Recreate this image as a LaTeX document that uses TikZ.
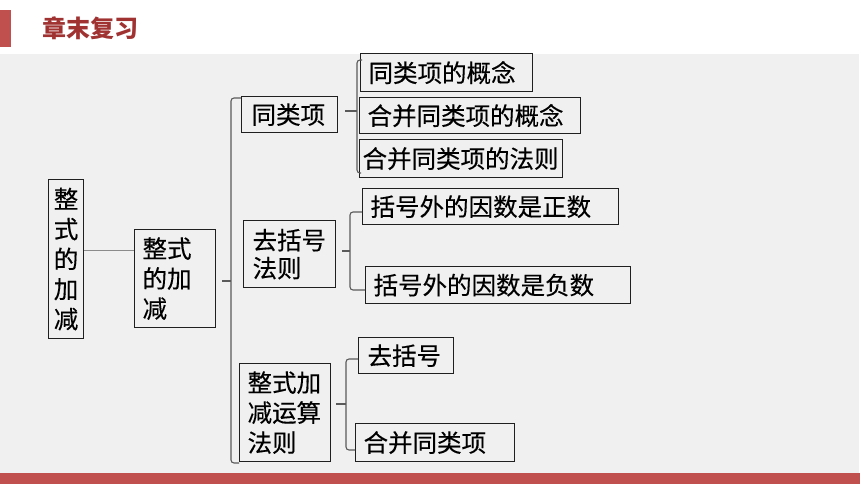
\documentclass[tikz,border=0pt]{standalone}
\usepackage{fontspec}
\usepackage{xcolor}
\usepackage{tikz}
\newfontfamily\cjk{Noto Sans CJK SC}
\newfontfamily\cjkbox[FakeBold=0.3]{Noto Sans CJK SC}
\definecolor{bg}{HTML}{F0F0F0}
\definecolor{bar}{HTML}{C0504D}
\definecolor{title}{HTML}{A03232}
\definecolor{edge}{HTML}{1F1F1F}
\definecolor{wire}{HTML}{5A5A5A}
\tikzset{
  box/.style={draw=edge, line width=1.2pt, anchor=north west, inner xsep=8pt, inner ysep=0pt, align=left, font=\cjkbox\fontsize{24.5}{30}\selectfont},
  brace/.style={draw=wire, line width=1.1pt, rounded corners=3pt},
  link/.style={draw=wire!70, line width=1pt}
}

\begin{document}
\begin{tikzpicture}[x=1pt,y=-1pt]
\useasboundingbox (0,0) rectangle (860,484);
% frame
\fill[bg] (0,54) rectangle (859,473);
\fill[bar] (0,473) rectangle (860,484);
\fill[bar] (0,10) rectangle (11,47);
\node[anchor=west, text=title, font=\cjk\bfseries\fontsize{24}{28}\selectfont, inner sep=0pt] (ttl) at (42,28) {章末复习};

% root and first level
\node[box, inner xsep=0pt, text width=35pt, minimum height=159pt, align=center] (root) at (48,179) {整\\式\\的\\加\\减};
\node[box, text width=65pt, minimum height=98pt] (sub) at (134,229) {整式\\的加\\减};
\node[box, inner xsep=10pt, text width=76pt, minimum height=36pt] (tong) at (241,96) {同类项};
\node[box, inner xsep=9pt, text width=74pt, minimum height=67pt, font=\cjkbox\fontsize{24.5}{28}\selectfont] (qkh) at (243,220) {去括号\\法则};
\node[box, text width=75pt, minimum height=98pt] (ys) at (239,363) {整式加\\减运算\\法则};

% second level
\node[box, text width=156pt, minimum height=38pt] (gn1) at (360,53) {同类项的概念};
\node[box, text width=205pt, minimum height=36pt] (gn2) at (359,97) {合并同类项的概念};
\node[box, inner xsep=3pt, text width=197pt, minimum height=38pt] (gn3) at (359,139) {合并同类项的法则};
\node[box, text width=240pt, minimum height=36pt] (zs) at (362,188) {括号外的因数是正数};
\node[box, text width=249pt, minimum height=37pt] (fs) at (365,266) {括号外的因数是负数};
\node[box, inner xsep=9pt, text width=77pt, minimum height=36pt] (qk) at (358,337) {去括号};
\node[box, text width=143pt, minimum height=38pt] (hb) at (355,423) {合并同类项};

% link
\coordinate (lk) at (100,250);
\draw[link] (root.east |- lk) -- (sub.west |- lk);

% braces
\coordinate (b0t) at (231,98);
\coordinate (b0b) at (231,463);
\coordinate (b0m) at (231,281);
\draw[brace] (tong.west |- b0t) -- (b0t) -- (b0b) -- (ys.west |- b0b);
\draw[brace] (sub.east |- b0m) ++(6,0) -- (b0m);

\coordinate (b1t) at (357,60);
\coordinate (b1b) at (357,173);
\coordinate (b1m) at (357,111);
\draw[brace] ([xshift=2pt]gn1.west |- b1t) -- (b1t) -- (b1b) -- ([xshift=2pt]gn3.west |- b1b);
\draw[brace] (tong.east |- b1m) ++(7,0) -- (b1m);

\coordinate (b2t) at (350,212);
\coordinate (b2b) at (350,290);
\coordinate (b2m) at (350,251);
\draw[brace] (zs.west |- b2t) -- (b2t) -- (b2b) -- (fs.west |- b2b);
\draw[brace] (qkh.east |- b2m) ++(6,0) -- (b2m);

\coordinate (b3t) at (346,359);
\coordinate (b3b) at (346,450);
\coordinate (b3m) at (346,404);
\draw[brace] (qk.west |- b3t) -- (b3t) -- (b3b) -- (hb.west |- b3b);
\draw[brace] (ys.east |- b3m) ++(5,0) -- (b3m);
\end{tikzpicture}
\end{document}
